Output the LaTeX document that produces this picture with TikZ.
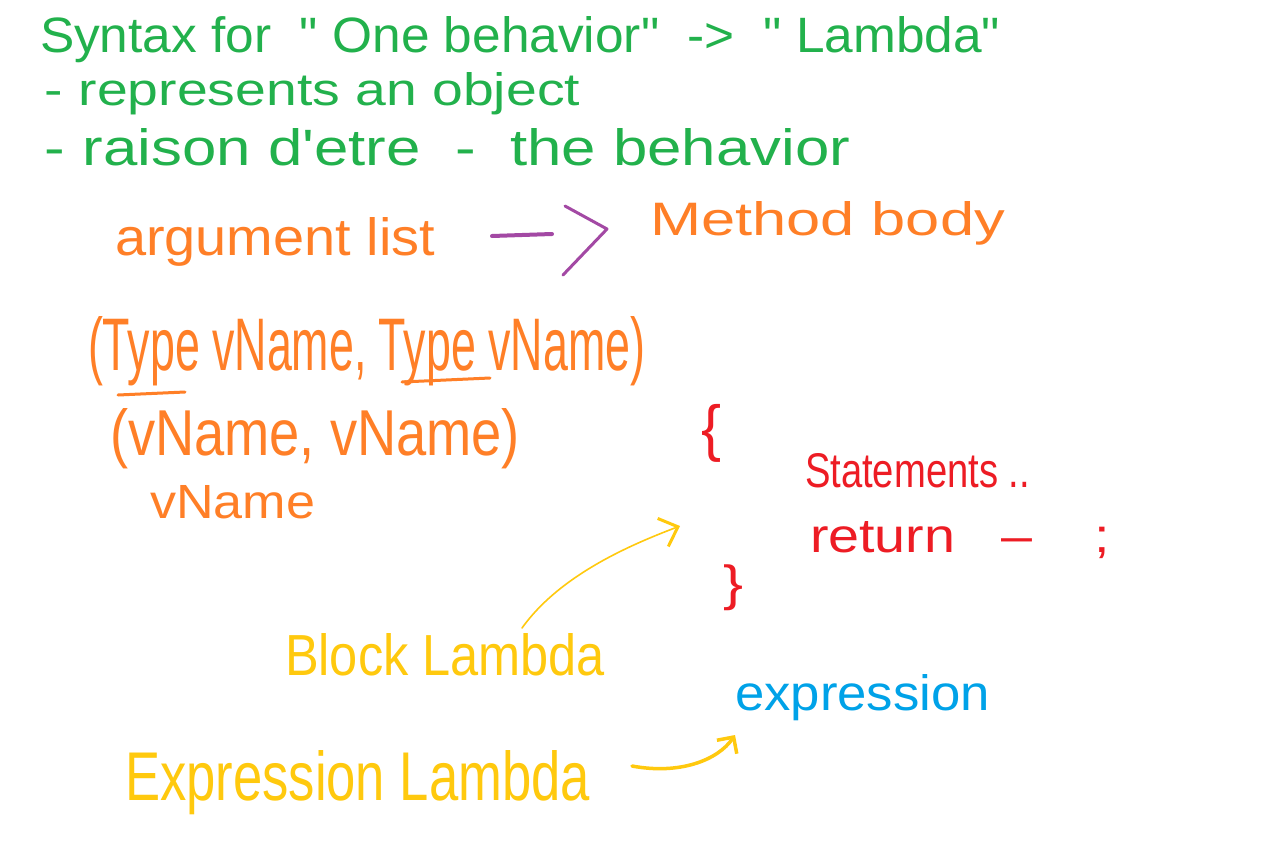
\documentclass[tikz,border=0pt]{standalone}
\usepackage{fontspec}
\newfontfamily\hand{Liberation Sans}
\usetikzlibrary{arrows.meta}
\definecolor{pgreen}{RGB}{34,177,76}
\definecolor{porange}{RGB}{255,127,39}
\definecolor{ppurple}{RGB}{163,73,164}
\definecolor{pred}{RGB}{237,28,36}
\definecolor{pyellow}{RGB}{255,201,14}
\definecolor{pblue}{RGB}{0,162,232}
\newcommand{\hw}[3]{\resizebox{#1pt}{#2pt}{\hand #3}}
\newcommand{\hwt}[3]{\resizebox*{#1pt}{#2pt}{\hand #3}}
\begin{document}
\begin{tikzpicture}[x=1pt,y=-1pt,
  hw/.style={inner sep=0pt, outer sep=0pt, anchor=base west},
  brace/.style={inner sep=0pt, outer sep=0pt, text=pred},
  penarrow/.style={draw=pyellow, line cap=round, line join=round}]
\fill[white] (0,0) rectangle (1264,847);
\useasboundingbox (0,0) rectangle (1264,847);
% green header
\node[hw, text=pgreen] (title) at (40,52) {\hw{960}{36}{Syntax for\ \ "\ One behavior" \ -{}> \ "\ Lambda"}};
\node[hw, text=pgreen] (obj) at (45,105) {\hw{535}{33}{- represents an object}};
\node[hw, text=pgreen] (raison) at (45,165) {\hw{805}{37}{- raison d'etre \ - \ the behavior}};
% orange
\node[hw, text=porange] (arglist) at (115,255) {\hw{320}{38}{argument list}};
\node[hw, text=porange] (body) at (650,235) {\hw{355}{34}{Method body}};
\node[hw, text=porange] (typed) at (88,370) {\hw{557}{54}{(Type vName, Type vName)}};
\node[hw, text=porange] (untyped) at (110,455) {\hw{410}{47}{(vName, vName)}};
\node[hw, text=porange] (single) at (150,518) {\hw{165}{33}{vName}};
\draw[porange, line width=3, line cap=round] (118,395) -- (185,392);
\draw[porange, line width=3, line cap=round] (402,382) -- (490,378);
% purple arrow
\draw[ppurple, line width=4, line cap=round] (492,236) -- (552,234);
\draw[ppurple, line width=3, line cap=round, line join=round] (565,206) -- (607,229) -- (563,275);
% red block
\node[brace] (lbrace) at (711,433) {\hwt{20}{58}{\{}};
\node[brace] (rbrace) at (733,588) {\hwt{20}{46}{\}}};
\node[hw, text=pred] (stmts) at (805,487) {\hw{225}{34}{Statements ..}};
\node[hw, text=pred] (ret) at (810,552) {\hw{300}{31}{return \ \ – \ \ \ ;}};
% yellow and blue
\node[hw, text=pyellow] (block) at (285,675) {\hw{320}{42}{Block Lambda}};
\node[hw, text=pyellow] (exprl) at (125,800) {\hw{465}{50}{Expression Lambda}};
\node[hw, text=pblue] (expr) at (735,710) {\hw{255}{36}{expression}};
\coordinate (bstart) at (522,628);
\coordinate (btip) at (680,526);
\coordinate (estart) at (632,766);
\coordinate (etip) at (735,735);
\draw[penarrow, line width=1.6, -{Straight Barb[length=16pt,width=30pt,line width=3pt]}] (bstart) .. controls (560,575) and (630,545) .. (btip);
\draw[penarrow, line width=3.5, -{Straight Barb[length=12pt,width=24pt]}] (estart) .. controls (680,775) and (718,760) .. (etip);
\end{tikzpicture}
\end{document}
